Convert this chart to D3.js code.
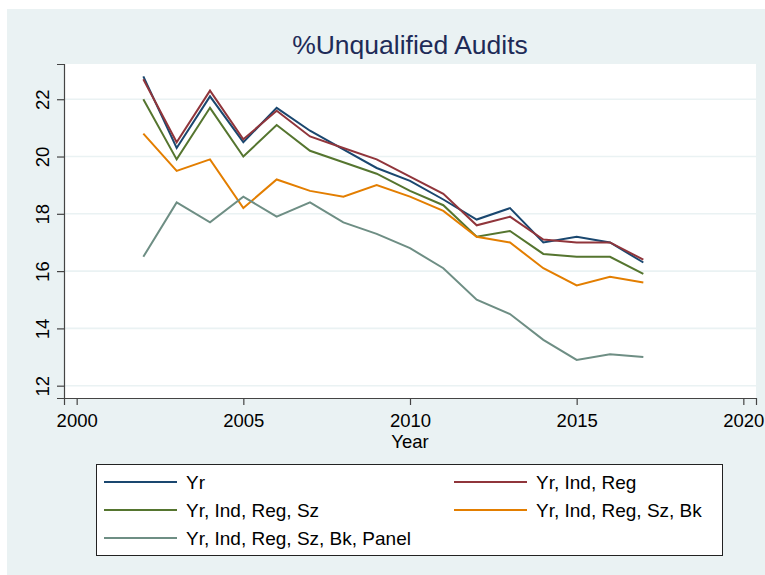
<!DOCTYPE html>
<html>
<head>
<meta charset="utf-8">
<script src="https://cdn.jsdelivr.net/npm/d3@7"></script>
<style>
  body { margin: 0; background: #fff; }
  text { font-family: "Liberation Sans", Arial, sans-serif; }
</style>
</head>
<body>
<svg id="chart" width="765" height="575"></svg>
<script>
// values
var years = [2002, 2003, 2004, 2005, 2006, 2007, 2008, 2009, 2010, 2011, 2012, 2013, 2014, 2015, 2016, 2017];
var yr        = [22.8, 20.3, 22.1, 20.5, 21.7, 20.9, 20.25, 19.6, 19.15, 18.5, 17.8, 18.2, 17.0, 17.2, 17.0, 16.3];
var yrIndReg  = [22.7, 20.5, 22.3, 20.6, 21.6, 20.7, 20.3, 19.9, 19.3, 18.7, 17.6, 17.9, 17.1, 17.0, 17.0, 16.4];
var yrIndRegSz = [22.0, 19.9, 21.7, 20.0, 21.1, 20.2, 19.8, 19.4, 18.8, 18.3, 17.2, 17.4, 16.6, 16.5, 16.5, 15.9];
var yrIndRegSzBk = [20.8, 19.5, 19.9, 18.2, 19.2, 18.8, 18.6, 19.0, 18.6, 18.1, 17.2, 17.0, 16.1, 15.5, 15.8, 15.6];
var yrIndRegSzBkPanel = [16.5, 18.4, 17.7, 18.6, 17.9, 18.4, 17.7, 17.3, 16.8, 16.1, 15.0, 14.5, 13.6, 12.9, 13.1, 13.0];

var seriesNames = ["Yr", "Yr, Ind, Reg", "Yr, Ind, Reg, Sz", "Yr, Ind, Reg, Sz, Bk", "Yr, Ind, Reg, Sz, Bk, Panel"];
var seriesColors = ["#1a476f", "#90353b", "#55752f", "#e37e00", "#6e8e84"];
var xTicks = [2000, 2005, 2010, 2015, 2020];
var yTicks = [12, 14, 16, 18, 20, 22];

var allSeries = [yr, yrIndReg, yrIndRegSz, yrIndRegSzBk, yrIndRegSzBkPanel];

var svg = d3.select("#chart");

// graph region (light blue-gray) with the thin white strip at top and left
svg.append("rect")
    .attr("x", 7).attr("y", 9)
    .attr("width", 765 - 7).attr("height", 575 - 9)
    .attr("fill", "#eaf2f3");

var plot = { left: 64, top: 64, right: 756, bottom: 398 };

var x = d3.scaleLinear()
    .domain([1999.62, 2020.38])
    .range([plot.left, plot.right]);

var y = d3.scaleLinear()
    .domain([11.57, 23.23])
    .range([plot.bottom, plot.top]);

svg.append("rect")
    .attr("x", plot.left).attr("y", plot.top)
    .attr("width", plot.right - plot.left)
    .attr("height", plot.bottom - plot.top)
    .attr("fill", "#fff");

// gridlines
svg.append("g")
    .selectAll("line")
    .data(yTicks)
    .enter().append("line")
    .attr("x1", plot.left).attr("x2", plot.right)
    .attr("y1", function (d) { return y(d); })
    .attr("y2", function (d) { return y(d); })
    .attr("stroke", "#eaf2f3")
    .attr("stroke-width", 1.6);

// series lines
var line = d3.line()
    .x(function (d) { return x(d.year); })
    .y(function (d) { return y(d.value); });

svg.append("g")
    .selectAll("path")
    .data(allSeries)
    .enter().append("path")
    .attr("d", function (s) {
        return line(s.map(function (v, i) { return { year: years[i], value: v }; }));
    })
    .attr("fill", "none")
    .attr("stroke", function (d, i) { return seriesColors[i]; })
    .attr("stroke-width", 2)
    .attr("stroke-linejoin", "miter");

// axes
var xAxis = svg.append("g")
    .attr("transform", "translate(0," + plot.bottom + ")")
    .call(d3.axisBottom(x).tickValues(xTicks).tickFormat(d3.format("d")).tickSize(7).tickPadding(4));

var yAxis = svg.append("g")
    .attr("transform", "translate(" + plot.left + ",0)")
    .call(d3.axisLeft(y).tickValues(yTicks).tickSize(7).tickPadding(4));

[xAxis, yAxis].forEach(function (a) {
    a.select(".domain").attr("stroke", "#444").attr("stroke-width", 1.2);
    a.selectAll(".tick line").attr("stroke", "#444").attr("stroke-width", 1.2);
    a.selectAll("text")
        .attr("fill", "#000")
        .style("font-size", "18.5px")
        .style("font-family", "'Liberation Sans', Arial, sans-serif");
});

xAxis.selectAll("text").attr("dy", "1em").attr("y", 10);

yAxis.selectAll(".tick text")
    .attr("x", null).attr("dy", null)
    .attr("text-anchor", "middle")
    .attr("transform", "translate(-15,0) rotate(-90)");

// axis title
svg.append("text")
    .attr("x", (plot.left + plot.right) / 2)
    .attr("y", 448)
    .attr("text-anchor", "middle")
    .style("font-size", "18.5px")
    .text("Year");

// chart title
svg.append("text")
    .attr("x", (plot.left + plot.right) / 2)
    .attr("y", 54)
    .attr("text-anchor", "middle")
    .attr("fill", "#1e2b58")
    .style("font-size", "26.5px")
    .text("%Unqualified Audits");

// legend
var legend = svg.append("g");
legend.append("rect")
    .attr("x", 96.5).attr("y", 464.5)
    .attr("width", 626).attr("height", 91)
    .attr("fill", "#fff")
    .attr("stroke", "#222")
    .attr("stroke-width", 1);

var colX = [104, 454];
var rowY = [482, 510, 538];

var item = legend.selectAll("g.item")
    .data(seriesNames)
    .enter().append("g")
    .attr("class", "item")
    .attr("transform", function (d, i) {
        return "translate(" + colX[i % 2] + "," + rowY[Math.floor(i / 2)] + ")";
    });

item.append("line")
    .attr("x1", 0).attr("x2", 73)
    .attr("y1", 0).attr("y2", 0)
    .attr("stroke", function (d, i) { return seriesColors[i]; })
    .attr("stroke-width", 2);

item.append("text")
    .attr("x", 82)
    .attr("y", 7)
    .style("font-size", "19px")
    .text(function (d) { return d; });
</script>
</body>
</html>
